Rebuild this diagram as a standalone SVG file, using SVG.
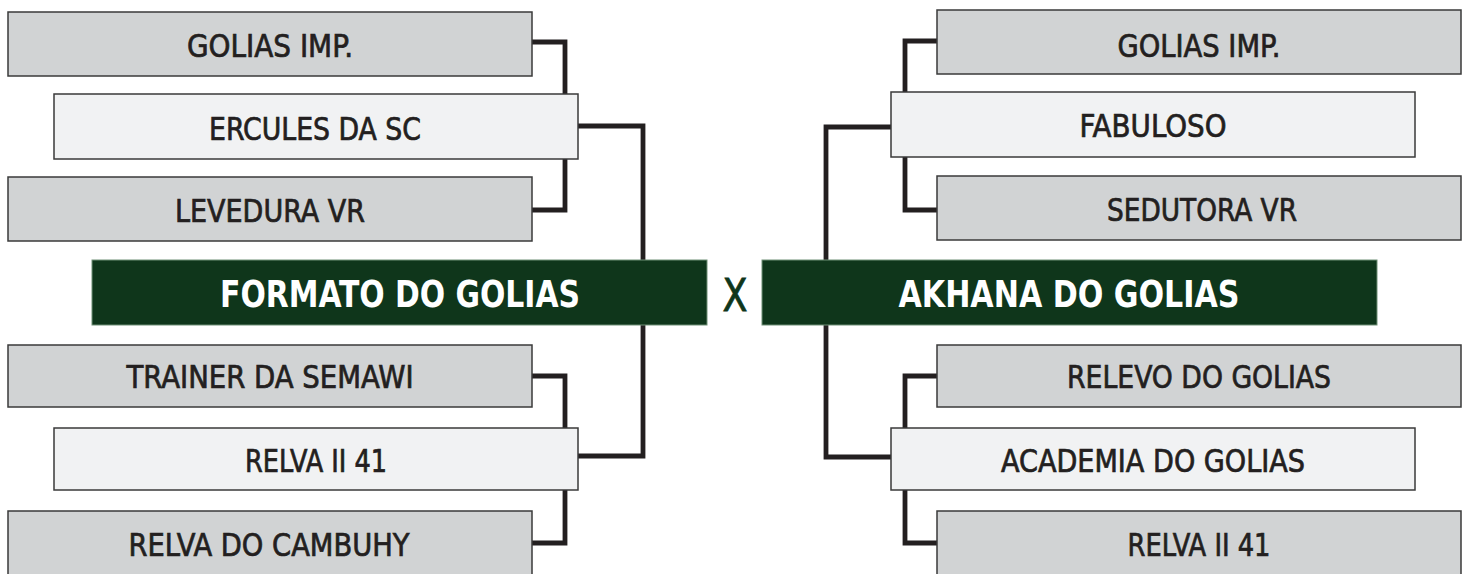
<svg xmlns="http://www.w3.org/2000/svg" width="1469" height="574" viewBox="0 0 1469 574">
<style>
.g{fill:#d1d3d4;stroke:#3a3a3a;stroke-width:1.5}
.l{fill:#f1f2f3;stroke:#3a3a3a;stroke-width:1.5}
.m{fill:#0f361b;stroke:#6f8f76;stroke-width:1}
.c{fill:none;stroke:#231f20;stroke-width:4.8;stroke-linejoin:miter}
.t{font-family:"DejaVu Sans","Liberation Sans",sans-serif;font-stretch:condensed;font-size:32px;fill:#231f20;stroke:#231f20;stroke-width:0.7;text-anchor:middle}
.h{font-family:"DejaVu Sans","Liberation Sans",sans-serif;font-stretch:condensed;font-weight:bold;font-size:37px;fill:#ffffff;text-anchor:middle}
.x{font-family:"DejaVu Sans","Liberation Sans",sans-serif;font-stretch:condensed;font-size:45px;fill:#0f361b;stroke:#0f361b;stroke-width:0.8;text-anchor:middle}
</style>
<rect width="1469" height="574" fill="#ffffff"/>
<g id="connectors">
<path class="c" d="M532,42 H565 V210 H532"/>
<path class="c" d="M578,126 H643 V456 H578"/>
<path class="c" d="M532,376 H565 V543 H532"/>
<path class="c" d="M937,41 H905 V210 H937"/>
<path class="c" d="M891,127 H826 V457 H891"/>
<path class="c" d="M937,376 H905 V543 H937"/>
</g>
<g id="l1"><rect class="g" x="8" y="12" width="524" height="64"/><text class="t" x="270" y="57" textLength="166" lengthAdjust="spacingAndGlyphs">GOLIAS IMP.</text></g>
<g id="l2"><rect class="l" x="54" y="94" width="524" height="65"/><text class="t" x="315" y="140" textLength="212" lengthAdjust="spacingAndGlyphs">ERCULES DA SC</text></g>
<g id="l3"><rect class="g" x="8" y="177" width="524" height="64"/><text class="t" x="270" y="222" textLength="190" lengthAdjust="spacingAndGlyphs">LEVEDURA VR</text></g>
<g id="lm"><rect class="m" x="92" y="260" width="615" height="65"/><text class="h" x="400" y="307" textLength="360" lengthAdjust="spacingAndGlyphs">FORMATO DO GOLIAS</text></g>
<g id="vs"><text class="x" x="735" y="311" textLength="25" lengthAdjust="spacingAndGlyphs">X</text></g>
<g id="l4"><rect class="g" x="8" y="345" width="524" height="62"/><text class="t" x="270" y="388" textLength="287" lengthAdjust="spacingAndGlyphs">TRAINER DA SEMAWI</text></g>
<g id="l5"><rect class="l" x="54" y="428" width="524" height="62"/><text class="t" x="316" y="472" textLength="142" lengthAdjust="spacingAndGlyphs">RELVA II 41</text></g>
<g id="l6"><rect class="g" x="8" y="511" width="524" height="70"/><text class="t" x="269" y="556" textLength="281" lengthAdjust="spacingAndGlyphs">RELVA DO CAMBUHY</text></g>
<g id="r1"><rect class="g" x="937" y="10" width="524" height="64"/><text class="t" x="1199" y="57" textLength="163" lengthAdjust="spacingAndGlyphs">GOLIAS IMP.</text></g>
<g id="r2"><rect class="l" x="891" y="92" width="524" height="65"/><text class="t" x="1153" y="137" textLength="147" lengthAdjust="spacingAndGlyphs">FABULOSO</text></g>
<g id="r3"><rect class="g" x="937" y="176" width="524" height="64"/><text class="t" x="1202" y="221" textLength="190" lengthAdjust="spacingAndGlyphs">SEDUTORA VR</text></g>
<g id="rm"><rect class="m" x="762" y="260" width="615" height="65"/><text class="h" x="1069" y="307" textLength="341" lengthAdjust="spacingAndGlyphs">AKHANA DO GOLIAS</text></g>
<g id="r4"><rect class="g" x="937" y="345" width="524" height="62"/><text class="t" x="1199" y="388" textLength="264" lengthAdjust="spacingAndGlyphs">RELEVO DO GOLIAS</text></g>
<g id="r5"><rect class="l" x="891" y="428" width="524" height="62"/><text class="t" x="1153" y="472" textLength="304" lengthAdjust="spacingAndGlyphs">ACADEMIA DO GOLIAS</text></g>
<g id="r6"><rect class="g" x="937" y="511" width="524" height="70"/><text class="t" x="1199" y="556" textLength="143" lengthAdjust="spacingAndGlyphs">RELVA II 41</text></g>
</svg>
